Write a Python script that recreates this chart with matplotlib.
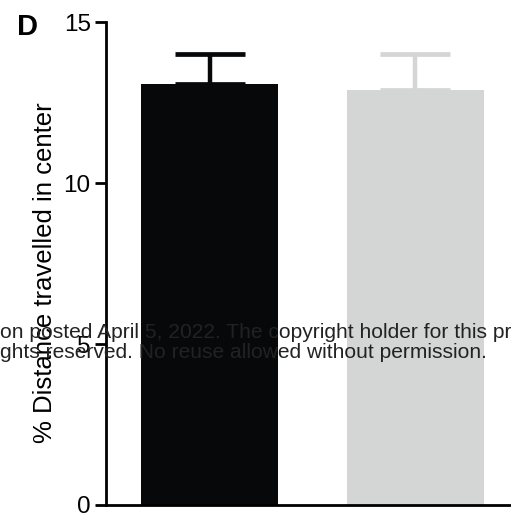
"""Bar chart of centre distance with SEM error bars (panel D)."""
import matplotlib
matplotlib.use('Agg')
from matplotlib import pyplot as plt

groups = ['Control', 'Treated']
means = [13.07, 12.89]
sem = [0.95, 1.11]
colors = ['#070809', '#d4d5d5']
yticks = [0, 5, 10, 15]

plt.rcParams['font.family'] = ['Liberation Sans', 'DejaVu Sans']

fig = plt.figure(figsize=(5.11, 5.18), dpi=100)
ax = fig.add_axes([0.2074, 0.0251, 0.967, 0.9324])

x = list(range(len(groups)))
ax.bar(x, means, width=0.667, color=colors, zorder=2)
for xi, m, e, c in zip(x, means, sem, colors):
    # upper half of the error bar only
    ax.errorbar(xi, m, yerr=[[0], [e]], color=c, elinewidth=3.2,
                capsize=25.5, capthick=3.4, zorder=1)

ax.set_xlim(-0.504, 1.90)
ax.set_ylim(0, 15)
ax.set_yticks(yticks)
ax.set_xticks([])
ax.spines['top'].set_visible(False)
ax.spines['right'].set_visible(False)
for side in ('left', 'bottom'):
    ax.spines[side].set_linewidth(2.0)
ax.tick_params(axis='y', direction='out', length=8, width=2.0,
               labelsize=17.5, pad=3)
ax.set_ylabel('% Distance travelled in center', fontsize=18.5)
ax.yaxis.set_label_coords(-0.099, 0.482)

fig.text(0.033, 0.948, 'D', fontsize=21, fontweight='bold', va='center')

# preprint watermark printed across the panel
fig.text(0.0, 0.359, 'on posted April 5, 2022. The copyright holder for this pr',
         fontsize=15.1, color='#222222', va='center', ha='left', zorder=10)
fig.text(0.0, 0.320, 'ghts reserved. No reuse allowed without permission.',
         fontsize=15.1, color='#222222', va='center', ha='left', zorder=10)

fig.savefig('out.png', dpi=100)
